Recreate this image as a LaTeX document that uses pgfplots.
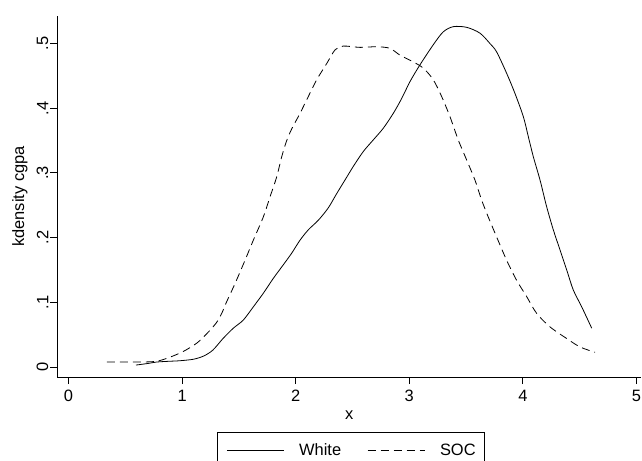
\documentclass[border=0pt]{standalone}
\usepackage{pgfplots}
\pgfplotsset{compat=1.18}
\usepackage{fontspec}
\setmainfont{Liberation Sans}
\begin{document}
\begin{tikzpicture}
\begin{axis}[
  scale only axis,
  width=583.5bp, height=361bp,
  xmin=-0.097, xmax=5.04,
  ymin=-0.01545, ymax=0.5425,
  axis lines*=left,
  axis line style={line width=0.9bp},
  tick style={line width=0.9bp, black},
  tick align=outside,
  major tick length=7bp,
  xtick={0,1,2,3,4,5},
  ytick={0,0.1,0.2,0.3,0.4,0.5},
  yticklabels={0,.1,.2,.3,.4,.5},
  /pgf/number format/assume math mode=true,
  font=\fontsize{16.5}{19}\selectfont,
  ticklabel style={font=\fontsize{16.5}{19}\selectfont},
  yticklabel style={rotate=90, anchor=south, inner sep=2bp},
  xticklabel style={anchor=north, inner sep=2bp, yshift=-4bp},
  xlabel={x},
  ylabel={kdensity cgpa},
  xlabel style={at={(axis description cs:0.5,0)}, anchor=center, yshift=-38bp},
  ylabel style={at={(axis description cs:-0.0643,0.5)}, anchor=center},
  legend columns=2,
  legend image code/.code={\draw[#1] (0bp,0bp) -- (57bp,0bp);},
  legend style={at={(0.503,-0.1524)}, anchor=north, draw=black, line width=0.9bp,
    font=\fontsize{16.5}{19}\selectfont, inner xsep=9bp, inner ysep=10bp,
    nodes={inner xsep=0bp, inner ysep=1bp},
    /tikz/every odd column/.append style={column sep=15bp},
    /tikz/every even column/.append style={column sep=26bp}},
]
\addplot[black, line width=0.8bp, smooth] coordinates {
(0.594,0.003) (0.70,0.0055) (0.776,0.0077) (0.88,0.0088) (0.98,0.0097)
(1.10,0.012) (1.19,0.017) (1.27,0.026) (1.36,0.044) (1.451,0.060)
(1.539,0.0726) (1.627,0.093) (1.715,0.114) (1.803,0.137) (1.891,0.158)
(1.965,0.176) (2.038,0.196) (2.111,0.212) (2.20,0.227) (2.287,0.246)
(2.361,0.268) (2.434,0.289) (2.507,0.310) (2.595,0.333) (2.683,0.351)
(2.771,0.369) (2.859,0.392) (2.933,0.415) (3.006,0.441) (3.094,0.467)
(3.211,0.498) (3.299,0.518) (3.387,0.526) (3.505,0.525) (3.622,0.516)
(3.710,0.500) (3.769,0.487) (3.857,0.454) (3.930,0.423) (4.004,0.387)
(4.048,0.356) (4.092,0.325) (4.151,0.289) (4.209,0.248) (4.268,0.212)
(4.327,0.181) (4.386,0.150) (4.444,0.119) (4.518,0.093) (4.606,0.060)
};
\addlegendentry{White}
\addplot[black, line width=0.8bp, dash pattern=on 8bp off 5bp, smooth] coordinates {
(0.337,0.0077) (0.50,0.0077) (0.65,0.0077) (0.78,0.009) (0.89,0.015)
(1.01,0.024) (1.13,0.037) (1.22,0.052) (1.30,0.068) (1.349,0.083)
(1.39,0.100) (1.466,0.129) (1.554,0.165) (1.627,0.196) (1.715,0.232)
(1.774,0.263) (1.833,0.294) (1.877,0.325) (1.921,0.350) (1.965,0.368)
(2.038,0.392) (2.111,0.418) (2.185,0.444) (2.273,0.469) (2.346,0.490)
(2.419,0.496) (2.566,0.494) (2.713,0.495) (2.83,0.4925) (2.918,0.482)
(3.03,0.472) (3.123,0.462) (3.211,0.444) (3.285,0.418) (3.358,0.387)
(3.431,0.351) (3.505,0.320) (3.578,0.289) (3.637,0.258) (3.695,0.232)
(3.769,0.201) (3.857,0.165) (3.945,0.134) (4.033,0.109) (4.121,0.083)
(4.239,0.062) (4.386,0.044) (4.503,0.031) (4.635,0.0227)
};
\addlegendentry{SOC}
\coordinate (O) at (rel axis cs:0,0);
\end{axis}
\pgfresetboundingbox
\path[use as bounding box] ([shift={(-57.5bp,-84bp)}]O) rectangle ([shift={(584.5bp,377bp)}]O);
\end{tikzpicture}
\end{document}
